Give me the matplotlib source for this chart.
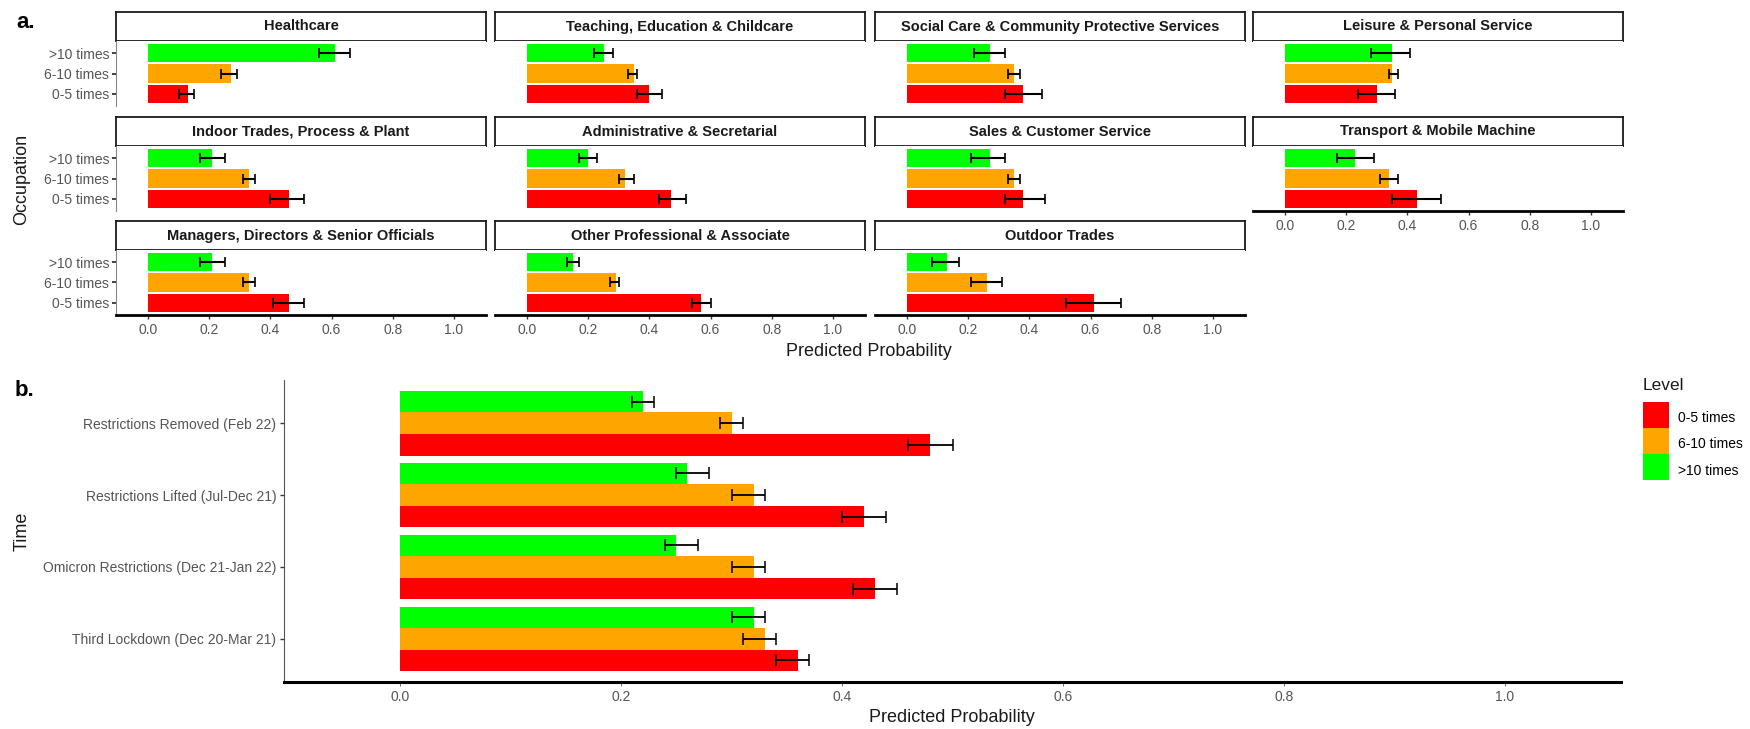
import matplotlib
matplotlib.use("Agg")
import matplotlib.pyplot as plt
from matplotlib.patches import Patch, Rectangle
from matplotlib.legend_handler import HandlerPatch
import numpy as np

plt.rcParams['font.family'] = ['Liberation Sans', 'DejaVu Sans']

# ---------------- data ----------------
levels = ['0-5 times', '6-10 times', '>10 times']
level_colors = ['#FF0000', '#FFA500', '#00FF00']

occupations = [
    'Healthcare', 'Teaching, Education & Childcare',
    'Social Care & Community Protective Services', 'Leisure & Personal Service',
    'Indoor Trades, Process & Plant', 'Administrative & Secretarial',
    'Sales & Customer Service', 'Transport & Mobile Machine',
    'Managers, Directors & Senior Officials', 'Other Professional & Associate',
    'Outdoor Trades',
]
occ_p_low = [0.13, 0.40, 0.38, 0.30, 0.46, 0.47, 0.38, 0.43, 0.46, 0.57, 0.61]
occ_lo_low = [0.10, 0.36, 0.32, 0.24, 0.40, 0.43, 0.32, 0.35, 0.41, 0.54, 0.52]
occ_hi_low = [0.15, 0.44, 0.44, 0.36, 0.51, 0.52, 0.45, 0.51, 0.51, 0.60, 0.70]

occ_p_mid = [0.27, 0.35, 0.35, 0.35, 0.33, 0.32, 0.35, 0.34, 0.33, 0.29, 0.26]
occ_lo_mid = [0.24, 0.33, 0.33, 0.34, 0.31, 0.30, 0.33, 0.31, 0.31, 0.27, 0.21]
occ_hi_mid = [0.29, 0.36, 0.37, 0.37, 0.35, 0.35, 0.37, 0.37, 0.35, 0.30, 0.31]

occ_p_high = [0.61, 0.25, 0.27, 0.35, 0.21, 0.20, 0.27, 0.23, 0.21, 0.15, 0.13]
occ_lo_high = [0.56, 0.22, 0.22, 0.28, 0.17, 0.17, 0.21, 0.17, 0.17, 0.13, 0.08]
occ_hi_high = [0.66, 0.28, 0.32, 0.41, 0.25, 0.23, 0.32, 0.29, 0.25, 0.17, 0.17]

times = ['Third Lockdown (Dec 20-Mar 21)', 'Omicron Restrictions (Dec 21-Jan 22)',
         'Restrictions Lifted (Jul-Dec 21)', 'Restrictions Removed (Feb 22)']
time_p_low = [0.36, 0.43, 0.42, 0.48]
time_lo_low = [0.34, 0.41, 0.40, 0.46]
time_hi_low = [0.37, 0.45, 0.44, 0.50]
time_p_mid = [0.33, 0.32, 0.32, 0.30]
time_lo_mid = [0.31, 0.30, 0.30, 0.29]
time_hi_mid = [0.34, 0.33, 0.33, 0.31]
time_p_high = [0.32, 0.25, 0.26, 0.22]
time_lo_high = [0.30, 0.24, 0.25, 0.21]
time_hi_high = [0.33, 0.27, 0.28, 0.23]

xticks = [0.0, 0.2, 0.4, 0.6, 0.8, 1.0]
xtick_labels = ['0.0', '0.2', '0.4', '0.6', '0.8', '1.0']

# ---------------- layout helpers ----------------
W, H = 1750, 729
fig = plt.figure(figsize=(W / 100, H / 100), dpi=100)


def px_axes(x0, y0, x1, y1):
    return fig.add_axes([x0 / W, 1 - y1 / H, (x1 - x0) / W, (y1 - y0) / H])


TICK_GRAY = '#555555'
col_x = [116, 495, 875, 1253]
panel_w = 370
strip_tops = [12, 117, 221]
strip_h = 29
panel_h = 65

occ_p = [occ_p_low, occ_p_mid, occ_p_high]
occ_lo = [occ_lo_low, occ_lo_mid, occ_lo_high]
occ_hi = [occ_hi_low, occ_hi_mid, occ_hi_high]

for i, occ in enumerate(occupations):
    r, c = divmod(i, 4)
    x0 = col_x[c]
    st = strip_tops[r]
    # strip
    sax = px_axes(x0, st, x0 + panel_w, st + strip_h)
    sax.set_xticks([]); sax.set_yticks([])
    for sp in sax.spines.values():
        sp.set_linewidth(1.3); sp.set_color('#1A1A1A')
    sax.text(0.5, 0.5, occ, ha='center', va='center', fontsize=10.5,
             fontweight='bold', color='#1A1A1A', transform=sax.transAxes)
    # panel
    ax = px_axes(x0, st + strip_h, x0 + panel_w, st + strip_h + panel_h)
    for k in range(3):
        v = occ_p[k][i]
        ax.barh(k, v, height=0.9, color=level_colors[k], edgecolor='none')
        ax.errorbar(v, k, xerr=[[v - occ_lo[k][i]], [occ_hi[k][i] - v]],
                    fmt='none', ecolor='black', elinewidth=1.5,
                    capsize=3.6, capthick=1.2)
    ax.set_xlim(-0.105, 1.105)
    ax.set_ylim(-0.6, 2.6)
    for s in ['top', 'right']:
        ax.spines[s].set_visible(False)
    bottom_row = (r == 2) or (r == 1 and c == 3)
    if bottom_row:
        ax.spines['bottom'].set_linewidth(2.0)
        ax.spines['bottom'].set_color('black')
        ax.set_xticks(xticks)
        ax.set_xticklabels(xtick_labels)
        ax.tick_params(axis='x', length=3, width=1.0, color='#333333',
                       labelsize=10, labelcolor=TICK_GRAY, pad=3)
    else:
        ax.spines['bottom'].set_visible(False)
        ax.set_xticks([])
    if c == 0:
        ax.spines['left'].set_linewidth(0.8)
        ax.spines['left'].set_color('#888888')
        ax.set_yticks([0, 1, 2])
        ax.set_yticklabels(levels)
        ax.tick_params(axis='y', length=3, width=1.3, color='#333333',
                       labelsize=10, labelcolor=TICK_GRAY, pad=2)
    else:
        ax.spines['left'].set_visible(False)
        ax.set_yticks([])

fig.text(869 / W, 1 - 352 / H, 'Predicted Probability', ha='center', va='center',
         fontsize=13, color='#1A1A1A')
fig.text(22 / W, 1 - 179 / H, 'Occupation', ha='center', va='center',
         rotation=90, fontsize=13, color='#1A1A1A')
fig.text(16 / W, 1 - 23 / H, 'a.', ha='left', va='center', fontsize=16,
         fontweight='bold')

# ---------------- bottom panel ----------------
bax = px_axes(284, 380, 1621, 682)
pos = np.arange(1, len(times) + 1)
time_p = [time_p_low, time_p_mid, time_p_high]
time_lo = [time_lo_low, time_lo_mid, time_lo_high]
time_hi = [time_hi_low, time_hi_mid, time_hi_high]
offsets = [-0.3, 0.0, 0.3]
for k in range(3):
    vals = np.array(time_p[k])
    y = pos + offsets[k]
    bax.barh(y, vals, height=0.3, color=level_colors[k], edgecolor='none')
    bax.errorbar(vals, y, xerr=[vals - np.array(time_lo[k]), np.array(time_hi[k]) - vals],
                 fmt='none', ecolor='black', elinewidth=1.3, capsize=4.3,
                 capthick=1.1)
bax.set_xlim(-0.105, 1.105)
bax.set_ylim(0.4, 4.6)
bax.set_yticks(pos)
bax.set_yticklabels(times)
bax.set_xticks(xticks)
bax.set_xticklabels(xtick_labels)
for s in ['top', 'right']:
    bax.spines[s].set_visible(False)
bax.spines['left'].set_linewidth(0.8)
bax.spines['left'].set_color('#555555')
bax.spines['bottom'].set_linewidth(2.2)
bax.spines['bottom'].set_color('black')
bax.tick_params(axis='x', length=3, width=0.6, color='#555555', labelsize=10,
                labelcolor=TICK_GRAY, pad=3)
bax.tick_params(axis='y', length=3, width=1.0, color='#333333', labelsize=10,
                labelcolor=TICK_GRAY, pad=2.5)

fig.text(952 / W, 1 - 718 / H, 'Predicted Probability', ha='center', va='center',
         fontsize=13, color='#1A1A1A')
fig.text(22 / W, 1 - 531 / H, 'Time', ha='center', va='center',
         rotation=90, fontsize=13, color='#1A1A1A')
fig.text(15 / W, 1 - 390 / H, 'b.', ha='left', va='center', fontsize=16,
         fontweight='bold')


# ---------------- legend ----------------
def full_key(legend, orig_handle, xdescent, ydescent, width, height, fontsize):
    return Rectangle((-xdescent, -ydescent + 1.0), width, height + ydescent - 2.0)


fig.text(1643 / W, 1 - 385 / H, 'Level', ha='left', va='center',
         fontsize=12.5, color='#1A1A1A')
handles = [Patch(facecolor=c, edgecolor='none', label=l)
           for c, l in zip(level_colors, levels)]
leg = fig.legend(handles=handles, loc='upper left',
                 bbox_to_anchor=(1643 / W, 1 - 407 / H), frameon=False,
                 fontsize=10, handlelength=1.85, handleheight=2.05,
                 labelspacing=0.3, handletextpad=0.65,
                 borderaxespad=0, borderpad=0,
                 handler_map={Patch: HandlerPatch(patch_func=full_key)})

fig.savefig('out.png', dpi=100, facecolor='white')
